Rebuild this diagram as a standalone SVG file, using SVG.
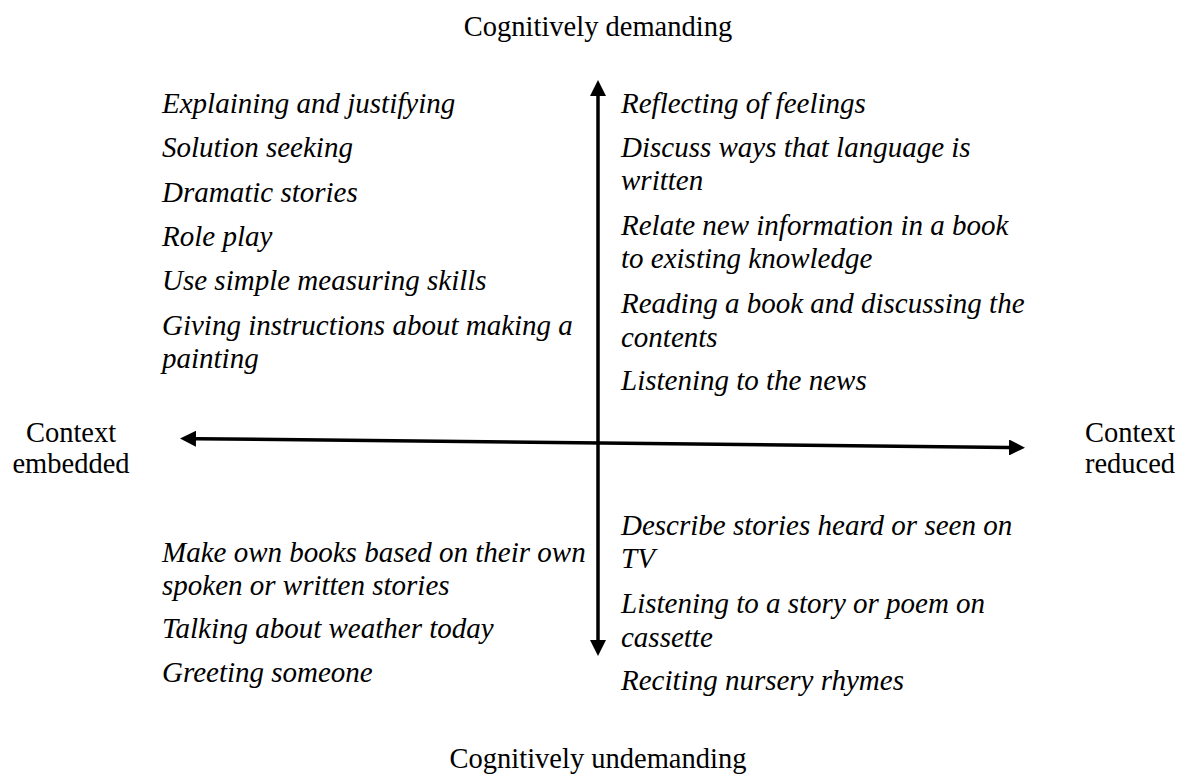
<svg xmlns="http://www.w3.org/2000/svg" width="1180" height="774" viewBox="0 0 1180 774">
  <style>
    .axis-label { font-family: "Liberation Serif", "Times New Roman", serif; font-size: 28.5px; fill: #000; }
    .item { font-family: "Liberation Serif", "Times New Roman", serif; font-size: 29px; font-style: italic; fill: #000; }
    .axis { stroke: #000; stroke-width: 3.5; fill: none; }
  </style>
  <defs>
    <marker id="head" markerUnits="userSpaceOnUse" viewBox="0 0 16 16" markerWidth="16" markerHeight="16" refX="0" refY="8" orient="auto-start-reverse">
      <path d="M0,0 L16,8 L0,16 z" fill="#000"/>
    </marker>
  </defs>
  <rect width="1180" height="774" fill="#fff"/>

  <!-- axes -->
  <g id="connectors">
    <line class="axis" x1="598" y1="96" x2="598" y2="640" marker-start="url(#head)" marker-end="url(#head)"/>
    <line class="axis" x1="196" y1="438.7" x2="1009" y2="447.5" marker-start="url(#head)" marker-end="url(#head)"/>
  </g>

  <!-- pole labels -->
  <g id="label-top">
    <text class="axis-label" x="598" y="36" text-anchor="middle">Cognitively demanding</text>
  </g>
  <g id="label-bottom">
    <text class="axis-label" x="598" y="768" text-anchor="middle">Cognitively undemanding</text>
  </g>
  <g id="label-left">
    <text class="axis-label" x="71" y="442" text-anchor="middle">Context</text>
    <text class="axis-label" x="71" y="473" text-anchor="middle">embedded</text>
  </g>
  <g id="label-right">
    <text class="axis-label" x="1130" y="442" text-anchor="middle">Context</text>
    <text class="axis-label" x="1130" y="473" text-anchor="middle">reduced</text>
  </g>

  <!-- upper left quadrant -->
  <g id="quadrant-top-left">
    <text class="item" x="162" y="113">Explaining and justifying</text>
    <text class="item" x="162" y="157">Solution seeking</text>
    <text class="item" x="162" y="202">Dramatic stories</text>
    <text class="item" x="162" y="246">Role play</text>
    <text class="item" x="162" y="290">Use simple measuring skills</text>
    <text class="item" x="162" y="335">Giving instructions about making a</text>
    <text class="item" x="162" y="368">painting</text>
  </g>

  <!-- upper right quadrant -->
  <g id="quadrant-top-right">
    <text class="item" x="621" y="113">Reflecting of feelings</text>
    <text class="item" x="621" y="157">Discuss ways that language is</text>
    <text class="item" x="621" y="190">written</text>
    <text class="item" x="621" y="235">Relate new information in a book</text>
    <text class="item" x="621" y="268">to existing knowledge</text>
    <text class="item" x="621" y="313">Reading a book and discussing the</text>
    <text class="item" x="621" y="347">contents</text>
    <text class="item" x="621" y="390">Listening to the news</text>
  </g>

  <!-- lower left quadrant -->
  <g id="quadrant-bottom-left">
    <text class="item" x="162" y="562">Make own books based on their own</text>
    <text class="item" x="162" y="595">spoken or written stories</text>
    <text class="item" x="162" y="638">Talking about weather today</text>
    <text class="item" x="162" y="682">Greeting someone</text>
  </g>

  <!-- lower right quadrant -->
  <g id="quadrant-bottom-right">
    <text class="item" x="621" y="535">Describe stories heard or seen on</text>
    <text class="item" x="621" y="568">TV</text>
    <text class="item" x="621" y="613">Listening to a story or poem on</text>
    <text class="item" x="621" y="647">cassette</text>
    <text class="item" x="621" y="690">Reciting nursery rhymes</text>
  </g>
</svg>
